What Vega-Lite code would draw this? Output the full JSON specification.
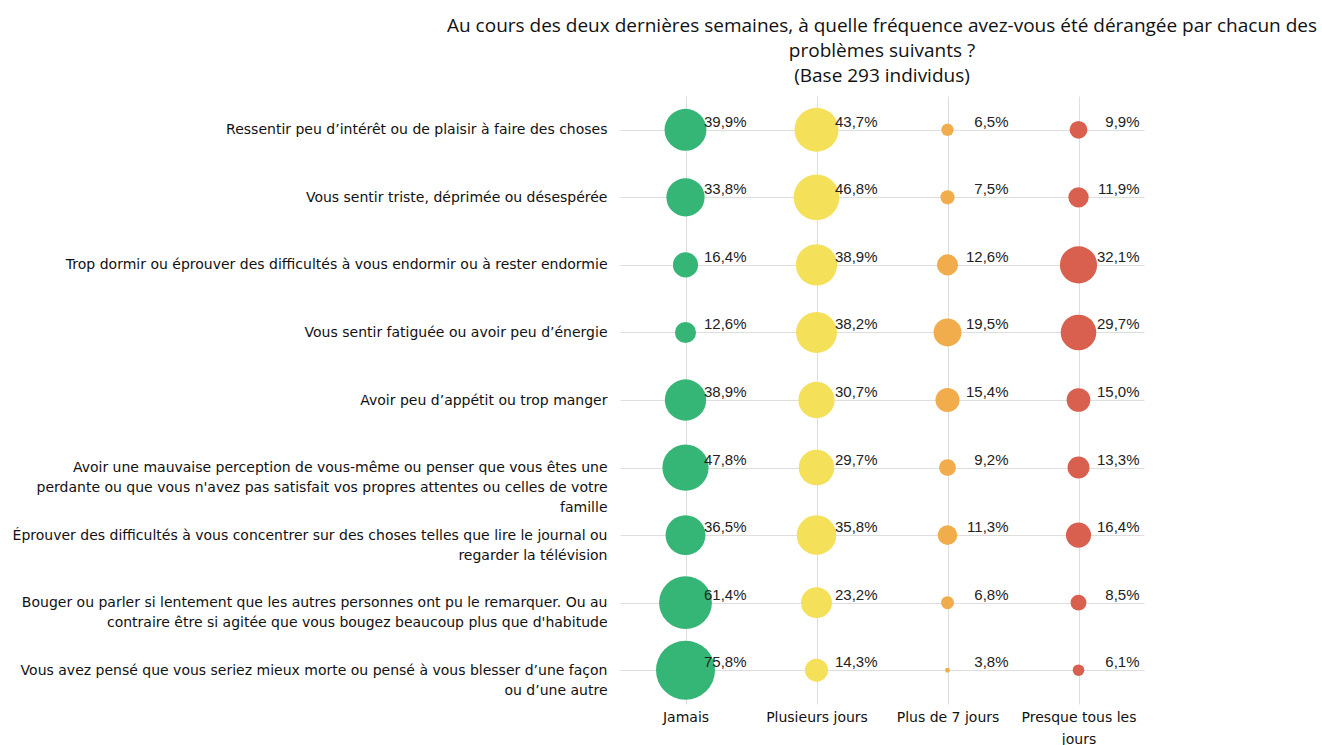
{
  "$schema": "https://vega.github.io/schema/vega-lite/v6.json",
  "autosize": "none",
  "width": 524,
  "height": 608,
  "padding": {"left": 620, "top": 96, "right": 178, "bottom": 41},
  "background": "white",
  "config": {
    "view": {"stroke": null},
    "locale": {"number": {"decimal": ",", "thousands": " ", "grouping": [3], "currency": ["", " €"]}}
  },
  "title": {
    "text": ["Au cours des deux dernières semaines, à quelle fréquence avez-vous été dérangée par chacun des", "problèmes suivants ?", "(Base 293 individus)"],
    "font": "Open Sans",
    "fontSize": 19,
    "fontWeight": "normal",
    "color": "#111111",
    "lineHeight": 25,
    "anchor": "middle",
    "offset": 10
  },
  "data": {
    "values": [
      {"item": "Ressentir peu d’intérêt ou de plaisir à faire des choses", "freq": "Jamais", "p": 0.399},
      {"item": "Ressentir peu d’intérêt ou de plaisir à faire des choses", "freq": "Plusieurs jours", "p": 0.437},
      {"item": "Ressentir peu d’intérêt ou de plaisir à faire des choses", "freq": "Plus de 7 jours", "p": 0.065},
      {"item": "Ressentir peu d’intérêt ou de plaisir à faire des choses", "freq": "Presque tous les|jours", "p": 0.099},
      {"item": "Vous sentir triste, déprimée ou désespérée", "freq": "Jamais", "p": 0.338},
      {"item": "Vous sentir triste, déprimée ou désespérée", "freq": "Plusieurs jours", "p": 0.468},
      {"item": "Vous sentir triste, déprimée ou désespérée", "freq": "Plus de 7 jours", "p": 0.075},
      {"item": "Vous sentir triste, déprimée ou désespérée", "freq": "Presque tous les|jours", "p": 0.119},
      {"item": "Trop dormir ou éprouver des difficultés à vous endormir ou à rester endormie", "freq": "Jamais", "p": 0.164},
      {"item": "Trop dormir ou éprouver des difficultés à vous endormir ou à rester endormie", "freq": "Plusieurs jours", "p": 0.389},
      {"item": "Trop dormir ou éprouver des difficultés à vous endormir ou à rester endormie", "freq": "Plus de 7 jours", "p": 0.126},
      {"item": "Trop dormir ou éprouver des difficultés à vous endormir ou à rester endormie", "freq": "Presque tous les|jours", "p": 0.321},
      {"item": "Vous sentir fatiguée ou avoir peu d’énergie", "freq": "Jamais", "p": 0.126},
      {"item": "Vous sentir fatiguée ou avoir peu d’énergie", "freq": "Plusieurs jours", "p": 0.382},
      {"item": "Vous sentir fatiguée ou avoir peu d’énergie", "freq": "Plus de 7 jours", "p": 0.195},
      {"item": "Vous sentir fatiguée ou avoir peu d’énergie", "freq": "Presque tous les|jours", "p": 0.297},
      {"item": "Avoir peu d’appétit ou trop manger", "freq": "Jamais", "p": 0.389},
      {"item": "Avoir peu d’appétit ou trop manger", "freq": "Plusieurs jours", "p": 0.307},
      {"item": "Avoir peu d’appétit ou trop manger", "freq": "Plus de 7 jours", "p": 0.154},
      {"item": "Avoir peu d’appétit ou trop manger", "freq": "Presque tous les|jours", "p": 0.150},
      {"item": "Avoir une mauvaise perception de vous-même ou penser que vous êtes une|perdante ou que vous n'avez pas satisfait vos propres attentes ou celles de votre|famille", "freq": "Jamais", "p": 0.478},
      {"item": "Avoir une mauvaise perception de vous-même ou penser que vous êtes une|perdante ou que vous n'avez pas satisfait vos propres attentes ou celles de votre|famille", "freq": "Plusieurs jours", "p": 0.297},
      {"item": "Avoir une mauvaise perception de vous-même ou penser que vous êtes une|perdante ou que vous n'avez pas satisfait vos propres attentes ou celles de votre|famille", "freq": "Plus de 7 jours", "p": 0.092},
      {"item": "Avoir une mauvaise perception de vous-même ou penser que vous êtes une|perdante ou que vous n'avez pas satisfait vos propres attentes ou celles de votre|famille", "freq": "Presque tous les|jours", "p": 0.133},
      {"item": "Éprouver des difficultés à vous concentrer sur des choses telles que lire le journal ou|regarder la télévision", "freq": "Jamais", "p": 0.365},
      {"item": "Éprouver des difficultés à vous concentrer sur des choses telles que lire le journal ou|regarder la télévision", "freq": "Plusieurs jours", "p": 0.358},
      {"item": "Éprouver des difficultés à vous concentrer sur des choses telles que lire le journal ou|regarder la télévision", "freq": "Plus de 7 jours", "p": 0.113},
      {"item": "Éprouver des difficultés à vous concentrer sur des choses telles que lire le journal ou|regarder la télévision", "freq": "Presque tous les|jours", "p": 0.164},
      {"item": "Bouger ou parler si lentement que les autres personnes ont pu le remarquer. Ou au|contraire être si agitée que vous bougez beaucoup plus que d'habitude", "freq": "Jamais", "p": 0.614},
      {"item": "Bouger ou parler si lentement que les autres personnes ont pu le remarquer. Ou au|contraire être si agitée que vous bougez beaucoup plus que d'habitude", "freq": "Plusieurs jours", "p": 0.232},
      {"item": "Bouger ou parler si lentement que les autres personnes ont pu le remarquer. Ou au|contraire être si agitée que vous bougez beaucoup plus que d'habitude", "freq": "Plus de 7 jours", "p": 0.068},
      {"item": "Bouger ou parler si lentement que les autres personnes ont pu le remarquer. Ou au|contraire être si agitée que vous bougez beaucoup plus que d'habitude", "freq": "Presque tous les|jours", "p": 0.085},
      {"item": "Vous avez pensé que vous seriez mieux morte ou pensé à vous blesser d’une façon|ou d’une autre", "freq": "Jamais", "p": 0.758},
      {"item": "Vous avez pensé que vous seriez mieux morte ou pensé à vous blesser d’une façon|ou d’une autre", "freq": "Plusieurs jours", "p": 0.143},
      {"item": "Vous avez pensé que vous seriez mieux morte ou pensé à vous blesser d’une façon|ou d’une autre", "freq": "Plus de 7 jours", "p": 0.038},
      {"item": "Vous avez pensé que vous seriez mieux morte ou pensé à vous blesser d’une façon|ou d’une autre", "freq": "Presque tous les|jours", "p": 0.061}
    ]
  },
  "encoding": {
    "x": {
      "field": "freq", "type": "nominal", "sort": null,
      "scale": {"type": "point", "padding": 0.5},
      "axis": {
        "title": null, "orient": "bottom", "domain": false, "ticks": false,
        "grid": true, "gridColor": "#dedede", "gridWidth": 1,
        "labelAngle": 0, "labelFont": "DejaVu Sans", "labelFontSize": 14,
        "labelColor": "#111111", "labelPadding": 6, "labelLineHeight": 22,
        "labelBaseline": "top",
        "labelExpr": "split(datum.label, '|')"
      }
    },
    "y": {
      "field": "item", "type": "nominal", "sort": null,
      "scale": {"type": "point", "padding": 0.5},
      "axis": {
        "title": null, "domain": false, "ticks": false,
        "grid": true, "gridColor": "#dedede", "gridWidth": 1,
        "labelFont": "DejaVu Sans", "labelFontSize": 14,
        "labelColor": "#111111", "labelPadding": 13, "labelLineHeight": 20,
        "labelLimit": 700, "labelBaseline": "middle",
        "labelExpr": "split(datum.label, '|')"
      }
    }
  },
  "layer": [
    {
      "mark": {"type": "circle", "opacity": 1},
      "encoding": {
        "size": {
          "field": "p", "type": "quantitative", "legend": null,
          "scale": {"type": "linear", "zero": false, "domain": [0.038, 0.758], "range": [24, 3480]}
        },
        "color": {
          "field": "freq", "type": "nominal", "legend": null,
          "scale": {
            "domain": ["Jamais", "Plusieurs jours", "Plus de 7 jours", "Presque tous les|jours"],
            "range": ["#35b676", "#f5e05a", "#f1ad4c", "#d9604e"]
          }
        }
      }
    },
    {
      "mark": {"type": "text", "align": "right", "baseline": "middle", "dx": 61, "dy": -8, "font": "Liberation Sans", "fontSize": 15, "color": "#222222"},
      "encoding": {
        "text": {"field": "p", "type": "quantitative", "format": ".1%"}
      }
    }
  ]
}
